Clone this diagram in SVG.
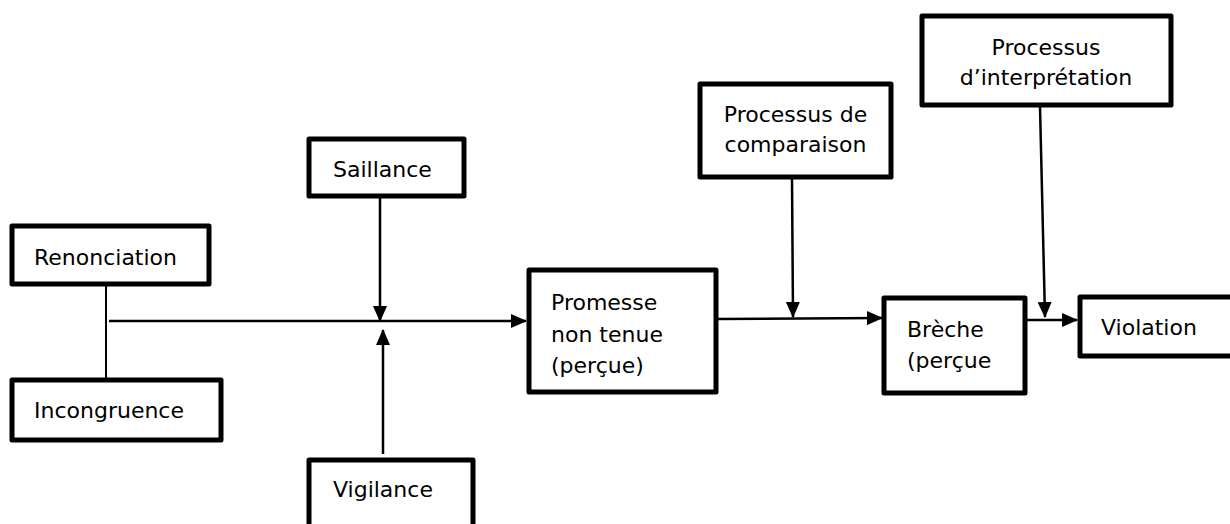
<svg xmlns="http://www.w3.org/2000/svg" width="1230" height="524" viewBox="0 0 1230 524">
<style>
.box{fill:#fff;stroke:#000;stroke-width:5;stroke-linejoin:round}
.t{font-family:"DejaVu Sans",Verdana,sans-serif;font-size:22px;fill:#000}
.c{text-anchor:middle}
.ln{stroke:#000;stroke-width:2.5;fill:none}
.thin{stroke:#000;stroke-width:2;fill:none}
</style>
<defs>
<marker id="ah" markerWidth="16" markerHeight="14" refX="15" refY="7" orient="auto" markerUnits="userSpaceOnUse">
<path d="M0,0 L16,7 L0,14 Z" fill="#000"/>
</marker>
</defs>
<g id="connectors">
<line class="thin" x1="106" y1="285" x2="106" y2="378"/>
<line class="ln" x1="109" y1="321" x2="526" y2="321" marker-end="url(#ah)"/>
<line class="ln" x1="380" y1="197" x2="380" y2="321" marker-end="url(#ah)"/>
<line class="ln" x1="383" y1="454" x2="383" y2="330" marker-end="url(#ah)"/>
<line class="ln" x1="718" y1="319" x2="882" y2="318" marker-end="url(#ah)"/>
<line class="ln" x1="792" y1="178" x2="793" y2="317" marker-end="url(#ah)"/>
<line class="ln" x1="1027" y1="320" x2="1077" y2="320" marker-end="url(#ah)"/>
<line class="ln" x1="1040" y1="107" x2="1045" y2="317" marker-end="url(#ah)"/>
</g>
<g id="renonciation">
<rect class="box" x="12" y="226" width="197" height="58"/>
<text class="t" x="34" y="265">Renonciation</text>
</g>
<g id="incongruence">
<rect class="box" x="12" y="380" width="209" height="60"/>
<text class="t" x="34" y="418">Incongruence</text>
</g>
<g id="saillance">
<rect class="box" x="309" y="139" width="155" height="57"/>
<text class="t" x="333" y="177">Saillance</text>
</g>
<g id="vigilance">
<rect class="box" x="309" y="460" width="164" height="80"/>
<text class="t" x="333" y="497">Vigilance</text>
</g>
<g id="promesse">
<rect class="box" x="529" y="270" width="187" height="122"/>
<text class="t" x="551" y="310">Promesse</text>
<text class="t" x="551" y="342">non tenue</text>
<text class="t" x="551" y="373">(perçue)</text>
</g>
<g id="comparaison">
<rect class="box" x="700" y="84" width="191" height="93"/>
<text class="t c" x="795.5" y="122">Processus de</text>
<text class="t c" x="795.5" y="152">comparaison</text>
</g>
<g id="breche">
<rect class="box" x="884" y="298" width="141" height="95"/>
<text class="t" x="907" y="337">Brèche</text>
<text class="t" x="907" y="368">(perçue</text>
</g>
<g id="interpretation">
<rect class="box" x="922" y="16" width="249" height="89"/>
<text class="t c" x="1046" y="55">Processus</text>
<text class="t c" x="1046" y="85">d’interprétation</text>
</g>
<g id="violation">
<rect class="box" x="1080" y="297" width="160" height="59"/>
<text class="t" x="1101" y="335">Violation</text>
</g>
</svg>
